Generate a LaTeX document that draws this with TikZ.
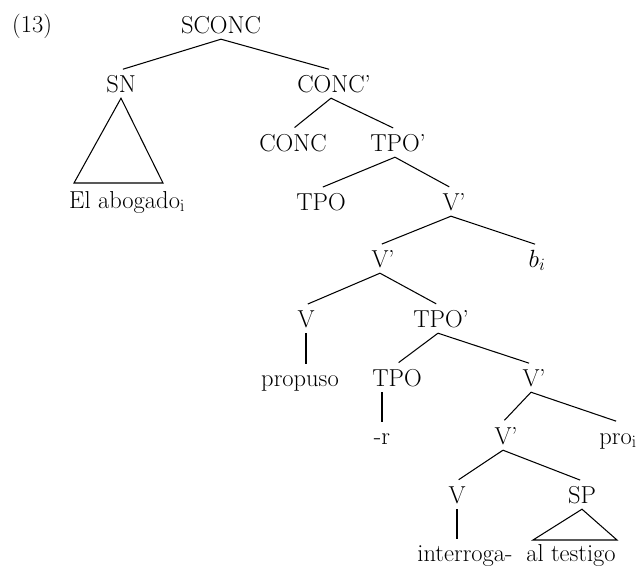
\documentclass[tikz,border=0pt]{standalone}
\begin{document}
\begin{tikzpicture}[x=1pt,y=-1pt,
  lbl/.style={anchor=base, inner xsep=0pt, inner ysep=6pt,
    text height=16pt, text depth=0pt, font=\fontsize{24.5}{28}\selectfont},
  branch/.style={line width=1.05pt, shorten >=2pt},
  stem/.style={line width=1.05pt},
]
\useasboundingbox (0,0) rectangle (638,566);

% example number
\node[lbl, anchor=base west] (num) at (12,32) {(13)};

% tree nodes (positions are centre x, baseline y)
\node[lbl] (sconc)  at (221,33)  {SCONC};
\node[lbl] (sn)     at (121,92)  {SN};
\node[lbl] (concb)  at (331,92)  {CONC\rlap{’}};
\node[lbl] (abog)   at (127,208) {El abogado$_{\mathrm{i}}$};
\node[lbl] (conc)   at (293,151) {CONC};
\node[lbl] (tpobA)  at (395,151) {TPO\rlap{’}};
\node[lbl] (tpoA)   at (321,210) {TPO};
\node[lbl] (vbA)    at (451,210) {V\rlap{’}};
\node[lbl] (vbB)    at (380,267) {V\rlap{’}};
\node[lbl] (hi)     at (537,267) {$b_i$};
\node[lbl] (vA)     at (306,327) {V};
\node[lbl] (tpobB)  at (438,327) {TPO\rlap{’}};
\node[lbl] (prop)   at (300,386) {propuso};
\node[lbl] (tpoB)   at (397,386) {TPO};
\node[lbl] (vbC)    at (531,386) {V\rlap{’}};
\node[lbl] (rr)     at (382,444) {-r};
\node[lbl] (vbD)    at (503,444) {V\rlap{’}};
\node[lbl] (pro)    at (618,444) {pro$_{\mathrm{i}}$};
\node[lbl] (vB)     at (457,503) {V};
\node[lbl] (sp)     at (582,503) {SP};
\node[lbl] (interr) at (465,561) {interroga-};
\node[lbl] (test)   at (571,561) {al testigo};

% branches
\draw[branch] (sconc.south) -- (sn.north);
\draw[branch] (sconc.south) -- (concb.north);
\draw[branch] (concb.south) -- (conc.north);
\draw[branch] (concb.south) -- (tpobA.north);
\draw[branch] (tpobA.south) -- (tpoA.north);
\draw[branch] (tpobA.south) -- (vbA.north);
\draw[branch] (vbA.south) -- (vbB.north);
\draw[branch] (vbA.south) -- (hi.north);
\draw[branch] (vbB.south) -- (vA.north);
\draw[branch] (vbB.south) -- (tpobB.north);
\draw[branch] (tpobB.south) -- (tpoB.north);
\draw[branch] (tpobB.south) -- (vbC.north);
\draw[branch] (vbC.south) -- (vbD.north);
\draw[branch] (vbC.south) -- (pro.north);
\draw[branch] (vbD.south) -- (vB.north);
\draw[branch] (vbD.south) -- (sp.north);

% unary stems
\draw[stem] (vA.south) -- (vA.south |- prop.north);
\draw[stem] (tpoB.south -| rr.north) -- (rr.north);
\draw[stem] (vB.south) -- (vB.south |- interr.north);

% triangles for unanalysed constituents
\coordinate (snL) at (74,183);
\coordinate (snR) at (163,183);
\draw[stem, line join=miter] (sn.south) -- (snL) -- (snR) -- cycle;
\coordinate (spL) at (533,540);
\coordinate (spR) at (617,540);
\draw[stem, line join=miter] (sp.south) -- (spL) -- (spR) -- cycle;
\end{tikzpicture}
\end{document}
